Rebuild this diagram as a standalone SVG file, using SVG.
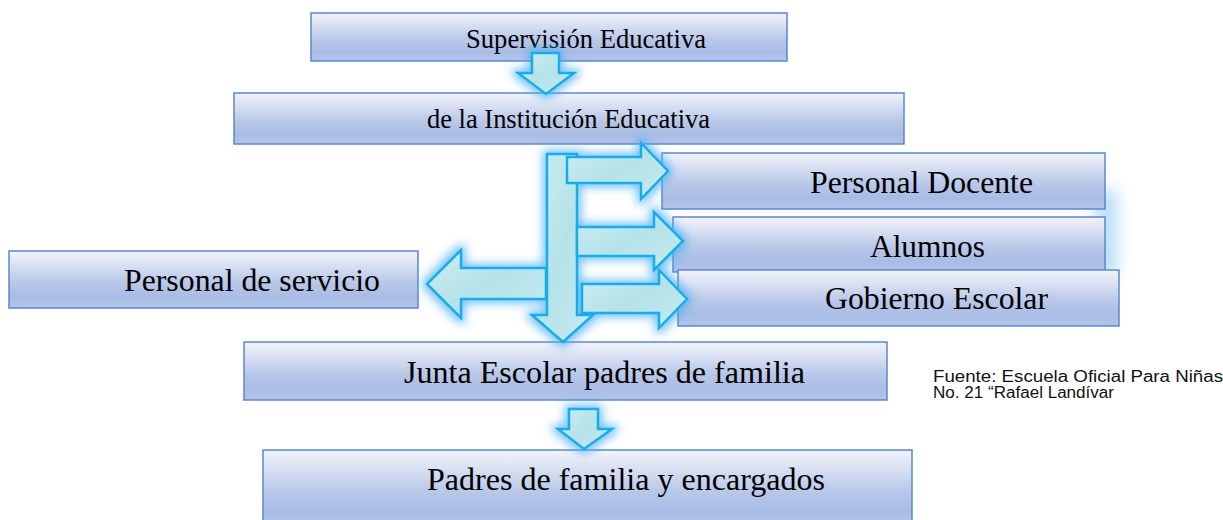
<svg xmlns="http://www.w3.org/2000/svg" width="1223" height="520" viewBox="0 0 1223 520">
<defs>
<linearGradient id="boxg" x1="0" y1="0" x2="0" y2="1">
<stop offset="0" stop-color="#f3f4fa"/>
<stop offset="0.55" stop-color="#b9c8e9"/>
<stop offset="0.8" stop-color="#a9bce4"/>
<stop offset="1" stop-color="#b3c5e8"/>
</linearGradient>
<linearGradient id="arrg" x1="0" y1="0" x2="1" y2="1">
<stop offset="0" stop-color="#cdeef2"/>
<stop offset="0.5" stop-color="#b5e2e9"/>
<stop offset="1" stop-color="#c6ebef"/>
</linearGradient>
<filter id="glow" x="-30%" y="-30%" width="160%" height="160%">
<feMorphology in="SourceAlpha" operator="dilate" radius="3" result="d"/>
<feGaussianBlur in="d" stdDeviation="5" result="b"/>
<feFlood flood-color="#4aaef2" flood-opacity="0.75"/>
<feComposite in2="b" operator="in" result="g"/>
<feMerge><feMergeNode in="g"/><feMergeNode in="SourceGraphic"/></feMerge>
</filter>
<filter id="soft" filterUnits="userSpaceOnUse" x="1060" y="150" width="110" height="170">
<feGaussianBlur stdDeviation="8"/>
</filter>
</defs>
<style>
.box{fill:url(#boxg);stroke:#5b86d3;stroke-width:1.5}
.t{font-family:"Liberation Serif","Times New Roman",serif;fill:#000}
.big{font-size:32px}
.mid{font-size:27px}
.arr{fill:url(#arrg);stroke:#17aee9;stroke-width:2.5;stroke-linejoin:miter}
.note{font-family:"Liberation Sans",Arial,sans-serif;font-size:16px;fill:#111}
</style>
<rect width="1223" height="520" fill="#fff"/>
<!-- glow behind right boxes -->
<rect x="1095" y="190" width="22" height="85" fill="#7cc0f3" opacity="0.55" filter="url(#soft)"/>

<g id="n-supervision">
<rect class="box" x="311" y="13" width="476" height="48"/>
<text class="t mid" x="466" y="48" textLength="240" lengthAdjust="spacingAndGlyphs">Supervisión Educativa</text>
</g>
<g id="n-institucion">
<rect class="box" x="234" y="93" width="670" height="51"/>
<text class="t mid" x="427" y="128" textLength="283" lengthAdjust="spacingAndGlyphs">de la Institución Educativa</text>
</g>
<g id="n-docente">
<rect class="box" x="662" y="153" width="443" height="56"/>
<text class="t big" x="810" y="193" textLength="223" lengthAdjust="spacingAndGlyphs">Personal Docente</text>
</g>
<g id="n-alumnos">
<rect class="box" x="673" y="217" width="432" height="55"/>
<text class="t big" x="870" y="257" textLength="115" lengthAdjust="spacingAndGlyphs">Alumnos</text>
</g>
<g id="n-gobierno">
<rect class="box" x="678" y="270" width="441" height="56"/>
<text class="t big" x="825" y="309" textLength="223" lengthAdjust="spacingAndGlyphs">Gobierno Escolar</text>
</g>
<g id="n-servicio">
<rect class="box" x="9" y="251" width="409" height="57"/>
<text class="t big" x="124" y="291" textLength="256" lengthAdjust="spacingAndGlyphs">Personal de servicio</text>
</g>
<g id="n-junta">
<rect class="box" x="244" y="342" width="643" height="58"/>
<text class="t big" x="404" y="383" textLength="401" lengthAdjust="spacingAndGlyphs">Junta Escolar padres de familia</text>
</g>
<g id="n-padres">
<rect class="box" x="263" y="450" width="649" height="75"/>
<text class="t big" x="427" y="490" textLength="398" lengthAdjust="spacingAndGlyphs">Padres de familia y encargados</text>
</g>

<g id="connectors" filter="url(#glow)">
<polygon class="arr" points="532,53 559,53 559,73 574,73 546,94 518,73 532,73"/>
<polygon class="arr" points="547,154 577,154 577,315 593,315 563,342 532,315 547,315"/>
<polygon class="arr" points="567,157 641,157 641,143 668,171 641,199 641,183 567,183"/>
<polygon class="arr" points="577,227 654,227 654,212 683,241 654,270 654,256 577,256"/>
<polygon class="arr" points="582,284 659,284 659,270 687,299 659,328 659,313 582,313"/>
<polygon class="arr" points="546,268 461,268 461,250 427,284 461,318 461,299 546,299"/>
<polygon class="arr" points="569,409 598,409 598,429 612,429 584,449 558,429 569,429"/>
</g>

<g id="source-note">
<text class="note" x="933" y="382" textLength="290" lengthAdjust="spacingAndGlyphs">Fuente: Escuela Oficial Para Niñas</text>
<text class="note" x="933" y="398" textLength="181" lengthAdjust="spacingAndGlyphs">No. 21 “Rafael Landívar</text>
</g>
</svg>
